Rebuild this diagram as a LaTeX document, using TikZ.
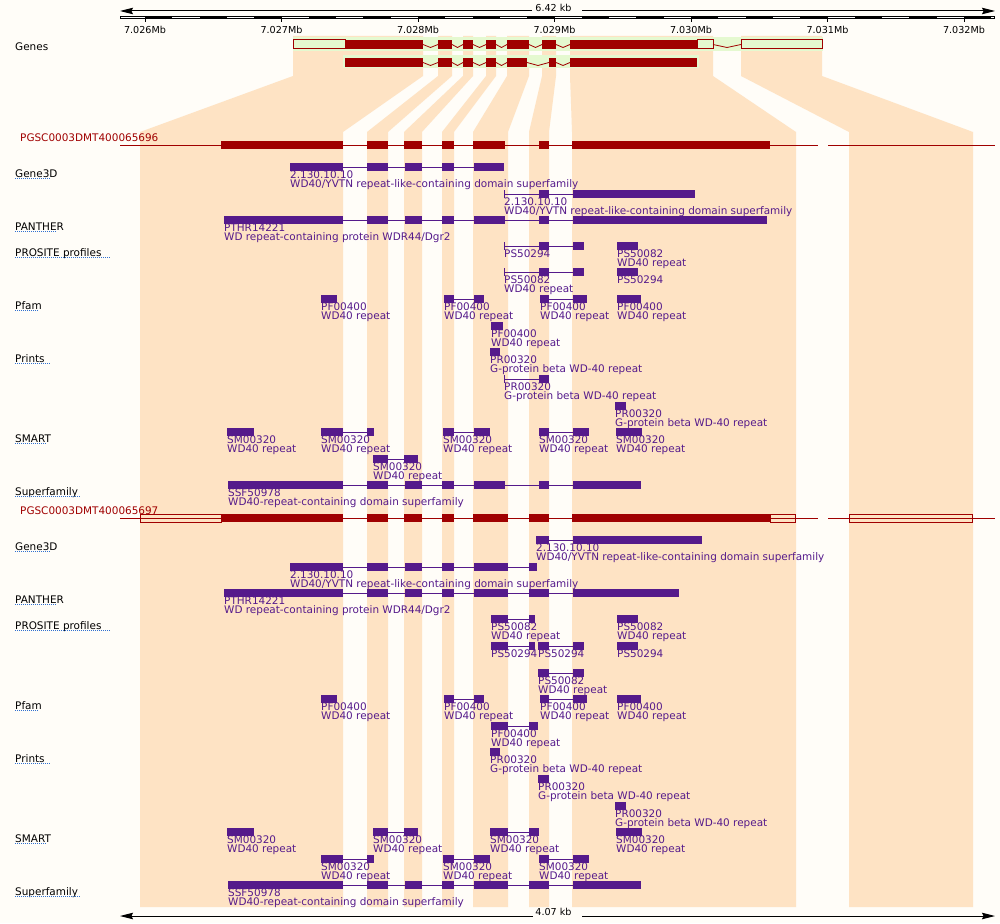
\documentclass[tikz,border=0pt]{standalone}
\usepackage{fontspec}
\setmainfont{DejaVu Sans}
\usetikzlibrary{arrows.meta}
\definecolor{pagebg}{HTML}{FFFDF8}
\definecolor{bandpeach}{HTML}{FEE3C4}
\definecolor{genegreen}{HTML}{E5F9D0}
\definecolor{exonred}{HTML}{A00000}
\definecolor{dompurple}{HTML}{551A8B}
\definecolor{linkblue}{HTML}{3070D0}
\newcommand{\lblfont}{\fontsize{10.45}{11}\selectfont}
\newcommand{\rulefont}{\fontsize{9.6}{10}\selectfont}
% one domain hit: top y, line from, line to, blocks, id, description
\newcommand{\domfeat}[6]{%
    \draw[domline] (#2,#1+4) -- (#3,#1+4);
    \foreach \p/\q in {#4} {\fill[dombar] (\p,#1) rectangle (\q,#1+8);}
    \node[domtext] (dc#2x#1) at (#2,#1+15) {#5};
    \node[domtext] (dd#2x#1) at (#2,#1+24) {#6};
}
\newcommand{\domtick}[2]{\draw[domline] (#1,#2) -- (#1,#2+8);}

\begin{document}
\begin{tikzpicture}[x=1pt, y=-1pt,
    band/.style={fill=bandpeach},
    exon/.style={fill=exonred},
    utr/.style={draw=exonred, line width=1pt},
    intron/.style={draw=exonred, line width=0.8pt},
    txline/.style={draw=exonred, line width=1pt},
    domline/.style={draw=dompurple, line width=1pt},
    dombar/.style={fill=dompurple},
    domtext/.style={anchor=base west, inner sep=0pt, font=\lblfont, text=dompurple},
    trklabel/.style={anchor=base west, inner sep=0pt, font=\lblfont},
    scaleline/.style={line width=1pt, -{Stealth[length=13pt, width=6.5pt, inset=1.5pt]}}]
    \useasboundingbox (0,0) rectangle (1000,923);
    \fill[pagebg] (0,0) rectangle (1000,923);

    % exon bands from genome down to transcripts
    \foreach \gl/\gr/\tl/\tr in {293/423/140/343, 438/452/367/388, 463/473/404/422, 486/496/442/454,
                                 507/529/473/508, 542/556/529/549, 570/713/572/796, 741/822/849/973} {
        \fill[band] (\gl,36) -- (\gr,36) -- (\gr,76) -- (\tr,132) -- (\tr,907) -- (\tl,907) -- (\tl,132) -- (\gl,76) -- cycle;
    }

    % top scale
    \node[anchor=base, inner sep=0pt, font=\rulefont] (kbtop) at (553.5,11.7) {6.42 kb};
    \draw[scaleline] (532,11) -- (120,11);
    \draw[scaleline] (582,11) -- (995,11);
    \fill (120,16) rectangle (995,19.3);
    \foreach \n in {0,...,16} {
        \fill[white] ({max(121,117.7+54.6*\n)},17) rectangle ({min(994,145+54.6*\n)},18.3);
    }
    \foreach \k/\t in {0/7.026Mb, 1/7.027Mb, 2/7.028Mb, 3/7.029Mb, 4/7.030Mb, 5/7.031Mb, 6/7.032Mb} {
        \draw[line width=1pt] (145+136.5*\k,19) -- (145+136.5*\k,22);
        \node[anchor=base, inner sep=0pt, font=\rulefont] (tick\k) at (145+136.5*\k,33.3) {\t};
    }

    % genes
    \node[trklabel] (genes) at (15,51) {Genes};
    \fill[genegreen] (293,37.5) rectangle (823,51.5);
    \fill[genegreen] (343,55.5) rectangle (699,68.5);
    \draw[utr] (293,40) rectangle (345,49);
    \draw[utr] (697,40) rectangle (713,49);
    \draw[utr] (741,40) rectangle (822,49);
    \foreach \a/\b in {345/423,438/452,463/473,486/496,507/529,542/556,570/697} {
        \fill[exon] (\a,40) rectangle (\b,49);
    }
    \foreach \a/\b in {423/438,452/463,473/486,496/507,529/542,556/570,713/741} {
        \draw[intron] (\a,44.5) -- ({(\a+\b)/2},47.5) -- (\b,44.5);
    }
    \foreach \a/\b in {345/423,438/452,463/473,486/496,507/527,549/556,570/697} {
        \fill[exon] (\a,58) rectangle (\b,67);
    }
    \foreach \a/\b in {423/438,452/463,473/486,496/507,527/549,556/570} {
        \draw[intron] (\a,62.5) -- ({(\a+\b)/2},65.5) -- (\b,62.5);
    }

    % track labels
    \foreach \y/\t/\u in {177/Gene3D/51, 230/PANTHER/57, 256/PROSITE profiles/111, 309/Pfam/39,
                          362/Prints/51, 442/SMART/46, 495/Superfamily/81,
                          550/Gene3D/51, 603/PANTHER/57, 629/PROSITE profiles/111, 709/Pfam/39,
                          762/Prints/51, 842/SMART/46, 895/Superfamily/81} {
        \node[trklabel] (trk\y) at (15,\y) {\t};
        \draw[linkblue, line width=1pt, dash pattern=on 1pt off 1pt] (15,\y+1.5) -- (\u,\y+1.5);
    }

    % transcript PGSC0003DMT400065696
    \node[trklabel, text=exonred] (tx696) at (20,141) {PGSC0003DMT400065696};
    \draw[txline] (120,145) -- (818,145);
    \draw[txline] (828,145) -- (995,145);
    \foreach \a/\b in {221/343,367/388,404/422,442/454,473/505,539/549,572/770} {
        \fill[exon] (\a,141) rectangle (\b,149);
    }

    \domfeat{163}{290}{504}{290/343,367/388,405/422,442/454,474/504}{2.130.10.10}{WD40/YVTN repeat-like-containing domain superfamily}
    \domtick{504}{190}
    \domfeat{190}{504}{695}{539/549,573/695}{2.130.10.10}{WD40/YVTN repeat-like-containing domain superfamily}
    \domfeat{216}{224}{767}{224/343,367/388,405/422,442/454,474/505,539/549,573/767}{PTHR14221}{WD repeat-containing protein WDR44/Dgr2}
    \domtick{504}{242}
    \domfeat{242}{504}{584}{539/549,573/584}{PS50294}{}
    \domfeat{242}{617}{638}{617/638}{PS50082}{WD40 repeat}
    \domtick{504}{268}
    \domfeat{268}{504}{584}{539/549,573/584}{PS50082}{WD40 repeat}
    \domfeat{268}{617}{638}{617/638}{PS50294}{}
    \domfeat{295}{321}{337}{321/337}{PF00400}{WD40 repeat}
    \domfeat{295}{444}{484}{444/454,474/484}{PF00400}{WD40 repeat}
    \domfeat{295}{540}{587}{540/549,573/587}{PF00400}{WD40 repeat}
    \domfeat{295}{617}{641}{617/641}{PF00400}{WD40 repeat}
    \domfeat{322}{491}{503}{491/503}{PF00400}{WD40 repeat}
    \domfeat{348}{490}{500}{490/500}{PR00320}{G-protein beta WD-40 repeat}
    \domtick{504}{375}
    \domfeat{375}{504}{549}{539/549}{PR00320}{G-protein beta WD-40 repeat}
    \domfeat{402}{615}{626}{615/626}{PR00320}{G-protein beta WD-40 repeat}
    \domfeat{428}{227}{254}{227/254}{SM00320}{WD40 repeat}
    \domfeat{428}{321}{374}{321/343,367/374}{SM00320}{WD40 repeat}
    \domfeat{428}{443}{490}{443/454,474/490}{SM00320}{WD40 repeat}
    \domfeat{428}{539}{589}{539/549,573/589}{SM00320}{WD40 repeat}
    \domfeat{428}{616}{642}{616/642}{SM00320}{WD40 repeat}
    \domfeat{455}{373}{418}{373/388,404/418}{SM00320}{WD40 repeat}
    \domfeat{481}{228}{641}{228/343,367/388,405/422,442/454,474/505,539/549,573/641}{SSF50978}{WD40-repeat-containing domain superfamily}

    % transcript PGSC0003DMT400065697
    \node[trklabel, text=exonred] (tx697) at (20,514) {PGSC0003DMT400065697};
    \draw[txline] (120,518) -- (818,518);
    \draw[txline] (828,518) -- (995,518);
    \foreach \a/\b in {221/343,367/388,404/422,442/454,473/508,529/549,572/770} {
        \fill[exon] (\a,514) rectangle (\b,522);
    }
    \foreach \a/\b in {140/221,770/795,849/972} {
        \draw[utr] (\a,514) rectangle (\b,522);
    }

    \domfeat{536}{536}{702}{536/549,573/702}{2.130.10.10}{WD40/YVTN repeat-like-containing domain superfamily}
    \domfeat{563}{290}{537}{290/343,367/388,405/422,442/454,474/508,529/537}{2.130.10.10}{WD40/YVTN repeat-like-containing domain superfamily}
    \domfeat{589}{224}{679}{224/343,367/388,405/422,442/454,474/508,529/549,573/679}{PTHR14221}{WD repeat-containing protein WDR44/Dgr2}
    \domfeat{615}{491}{535}{491/508,529/535}{PS50082}{WD40 repeat}
    \domfeat{615}{617}{638}{617/638}{PS50082}{WD40 repeat}
    \domfeat{642}{491}{535}{491/508,529/535}{PS50294}{}
    \domfeat{642}{538}{584}{538/549,573/584}{PS50294}{}
    \domfeat{642}{617}{638}{617/638}{PS50294}{}
    \domfeat{669}{538}{584}{538/549,573/584}{PS50082}{WD40 repeat}
    \domfeat{695}{321}{337}{321/337}{PF00400}{WD40 repeat}
    \domfeat{695}{444}{484}{444/454,474/484}{PF00400}{WD40 repeat}
    \domfeat{695}{540}{587}{540/549,573/587}{PF00400}{WD40 repeat}
    \domfeat{695}{617}{641}{617/641}{PF00400}{WD40 repeat}
    \domfeat{722}{491}{538}{491/508,529/538}{PF00400}{WD40 repeat}
    \domfeat{748}{490}{500}{490/500}{PR00320}{G-protein beta WD-40 repeat}
    \domfeat{775}{538}{549}{538/549}{PR00320}{G-protein beta WD-40 repeat}
    \domfeat{802}{615}{626}{615/626}{PR00320}{G-protein beta WD-40 repeat}
    \domfeat{828}{227}{254}{227/254}{SM00320}{WD40 repeat}
    \domfeat{828}{373}{418}{373/388,404/418}{SM00320}{WD40 repeat}
    \domfeat{828}{490}{539}{490/508,529/539}{SM00320}{WD40 repeat}
    \domfeat{828}{616}{642}{616/642}{SM00320}{WD40 repeat}
    \domfeat{855}{321}{374}{321/343,367/374}{SM00320}{WD40 repeat}
    \domfeat{855}{443}{490}{443/454,474/490}{SM00320}{WD40 repeat}
    \domfeat{855}{539}{589}{539/549,573/589}{SM00320}{WD40 repeat}
    \domfeat{881}{228}{641}{228/343,367/388,405/422,442/454,474/508,529/549,573/641}{SSF50978}{WD40-repeat-containing domain superfamily}

    % bottom scale
    \node[anchor=base, inner sep=0pt, font=\rulefont] (kbbottom) at (553.5,915.7) {4.07 kb};
    \draw[scaleline] (533,916) -- (120,916);
    \draw[scaleline] (582,916) -- (995,916);
\end{tikzpicture}
\end{document}
